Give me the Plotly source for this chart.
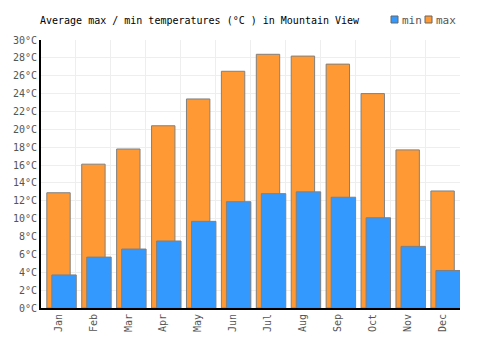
import plotly.graph_objects as go

months = ["Jan", "Feb", "Mar", "Apr", "May", "Jun", "Jul", "Aug", "Sep", "Oct", "Nov", "Dec"]
max_temps = [12.9, 16.1, 17.8, 20.4, 23.4, 26.5, 28.4, 28.2, 27.3, 24.0, 17.7, 13.1]
min_temps = [3.7, 5.7, 6.6, 7.5, 9.7, 11.9, 12.8, 13.0, 12.4, 10.1, 6.9, 4.2]
y_ticks = list(range(0, 31, 2))
y_labels = [f"{v}°C" for v in y_ticks]

FONT = "DejaVu Sans Mono"
W, H = 500, 350
ML, MR, MT, MB = 41, 40, 40, 42
PW, PH = W - ML - MR, H - MT - MB
MAX_COLOR = "#FF9933"
MIN_COLOR = "#3399FF"

def px_x(p):
    return (p - ML) / PW

def px_y(p):
    return (H - MB - p) / PH

fig = go.Figure()
fig.add_trace(go.Bar(
    x=months, y=max_temps, name="max",
    marker=dict(color=MAX_COLOR, line=dict(color="#808080", width=1)),
    offset=-0.334, width=0.67, showlegend=False,
))
fig.add_trace(go.Bar(
    x=months, y=min_temps, name="min",
    marker=dict(color=MIN_COLOR, line=dict(color="#808080", width=1)),
    offset=-0.19, width=0.70, showlegend=False,
))

# manual compact legend
legend_items = [("min", MIN_COLOR, 391), ("max", MAX_COLOR, 425)]
shapes, annotations = [], []
for label, color, x0 in legend_items:
    shapes.append(dict(type="rect", xref="paper", yref="paper",
                       x0=px_x(x0), x1=px_x(x0 + 7), y0=px_y(23), y1=px_y(16),
                       fillcolor=color, line=dict(color="#666666", width=1)))
    annotations.append(dict(text=label, xref="paper", yref="paper",
                            x=px_x(x0 + 8.5), y=px_y(20), xanchor="left", yanchor="middle",
                            showarrow=False,
                            font=dict(family=FONT, size=11, color="#555555")))

fig.update_layout(
    width=W, height=H,
    margin=dict(l=ML, r=MR, t=MT, b=MB, autoexpand=False),
    paper_bgcolor="white", plot_bgcolor="white",
    barmode="overlay",
    font=dict(family=FONT, size=10, color="#555555"),
    title=dict(text="Average max / min temperatures (°C ) in Mountain View",
               font=dict(family=FONT, size=10, color="#000000"),
               x=40 / W, xanchor="left", y=1 - 20 / H, yanchor="middle"),
    shapes=shapes, annotations=annotations,
    showlegend=False,
)
fig.update_xaxes(
    type="category", tickson="boundaries", tickangle=-90,
    showgrid=True, gridcolor="#EEEEEE", gridwidth=1,
    showline=True, linecolor="#000000", linewidth=2,
    ticks="", range=[-0.5, 11.5], automargin=False,
    tickfont=dict(family=FONT, size=10, color="#555555"),
)
fig.update_yaxes(
    range=[0, 30], tickvals=y_ticks, ticktext=y_labels,
    showgrid=True, gridcolor="#EEEEEE", gridwidth=1,
    showline=True, linecolor="#000000", linewidth=2,
    ticks="", zeroline=False, automargin=False,
    tickfont=dict(family=FONT, size=10, color="#555555"),
)

fig.write_html("out.html")
